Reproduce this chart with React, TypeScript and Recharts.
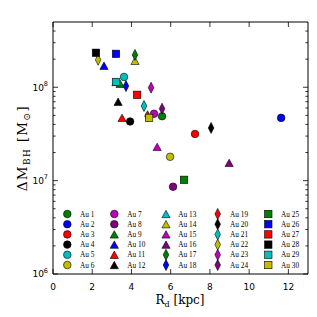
import React from 'react';
import { ScatterChart, Scatter, XAxis, YAxis, ReferenceArea, Legend } from 'recharts';

// ---- data ----
const haloNames = [
  'Au 1', 'Au 2', 'Au 3', 'Au 4', 'Au 5', 'Au 6', 'Au 7', 'Au 8', 'Au 9', 'Au 10',
  'Au 11', 'Au 12', 'Au 13', 'Au 14', 'Au 15', 'Au 16', 'Au 17', 'Au 18', 'Au 19', 'Au 20',
  'Au 21', 'Au 22', 'Au 23', 'Au 24', 'Au 25', 'Au 26', 'Au 27', 'Au 28', 'Au 29', 'Au 30',
];
// disc scale length R_d [kpc]
const diskScaleLengths = [
  5.56, 11.63, 7.24, 3.93, 3.62, 5.97, 5.15, 6.12, 3.42, 2.6,
  3.52, 3.32, 3.21, 4.18, 5.31, 8.98, 4.18, 3.72, 4.82, 8.06,
  4.64, 2.3, 5.0, 5.56, 6.68, 3.21, 4.29, 2.19, 3.21, 4.9,
];
// black hole mass growth [M_sun]
const bhMassGrowth = [
  4.9e7, 4.7e7, 3.16e7, 4.3e7, 1.29e8, 1.8e7, 5.2e7, 8.6e6, 1.09e8, 1.7e8,
  4.7e7, 7.0e7, 1.14e8, 1.92e8, 2.3e7, 1.55e7, 2.22e8, 1.03e8, 4.9e7, 3.67e7,
  6.3e7, 1.97e8, 9.9e7, 5.9e7, 1.02e7, 2.28e8, 8.3e7, 2.34e8, 1.14e8, 4.7e7,
];
const xTicks = [0, 2, 4, 6, 8, 10, 12];
const yTicks = [
  1e6, 2e6, 3e6, 4e6, 5e6, 6e6, 7e6, 8e6, 9e6,
  1e7, 2e7, 3e7, 4e7, 5e7, 6e7, 7e7, 8e7, 9e7,
  1e8, 2e8, 3e8, 4e8,
];
const xDomain = [0, 13];
const yDomain = [1e6, 5e8];

// ---- styles ----
const COLOR_CYCLE = ['#008000', '#0000ff', '#ff0000', '#000000', '#00bfbf', '#bfbf00', '#bf00bf', '#800080'];
const MARKER_CYCLE = ['circle', 'triangle', 'diamond', 'square'];
const colorOf = (i: number) => COLOR_CYCLE[i % 8];
const markerOf = (i: number) => MARKER_CYCLE[Math.floor(i / 8)];

const W = 317;
const H = 317;
const PLOT_LEFT = 53;
const PLOT_RIGHT = 308;
const PLOT_TOP = 22;
const PLOT_BOTTOM = 274;
const TICK_FONT = "'DejaVu Sans', sans-serif";
const SERIF = "'DejaVu Serif', serif";
const LEGEND_SERIF = "'Liberation Serif', serif";

function Marker({ cx, cy, kind, color }: { cx: number; cy: number; kind: string; color: string }) {
  const stroke = '#000';
  const sw = 0.6;
  if (cx == null || cy == null || isNaN(cx) || isNaN(cy)) return null;
  if (kind === 'circle') {
    return <circle cx={cx} cy={cy} r={3.8} fill={color} stroke={stroke} strokeWidth={sw} />;
  }
  if (kind === 'triangle') {
    const w = 8.2, h = 7.4;
    return (
      <polygon
        points={`${cx},${cy - h / 2} ${cx - w / 2},${cy + h / 2} ${cx + w / 2},${cy + h / 2}`}
        fill={color} stroke={stroke} strokeWidth={sw}
      />
    );
  }
  if (kind === 'diamond') {
    const w = 5.6, h = 11;
    return (
      <polygon
        points={`${cx},${cy - h / 2} ${cx + w / 2},${cy} ${cx},${cy + h / 2} ${cx - w / 2},${cy}`}
        fill={color} stroke={stroke} strokeWidth={sw}
      />
    );
  }
  const s = 7.4;
  return <rect x={cx - s / 2} y={cy - s / 2} width={s} height={s} fill={color} stroke={stroke} strokeWidth={sw} />;
}

function XTick(props: any) {
  const { x, payload } = props;
  return (
    <g>
      <line x1={x} x2={x} y1={PLOT_BOTTOM} y2={PLOT_BOTTOM - 5} stroke="#000" strokeWidth={0.8} />
      <line x1={x} x2={x} y1={PLOT_TOP} y2={PLOT_TOP + 5} stroke="#000" strokeWidth={0.8} />
      <text x={x} y={PLOT_BOTTOM + 15.5} textAnchor="middle" fontSize={9} fontFamily={TICK_FONT} fill="#000">
        {payload.value}
      </text>
    </g>
  );
}

function YTick(props: any) {
  const { y, payload } = props;
  const e = Math.log10(payload.value);
  const major = Math.abs(e - Math.round(e)) < 1e-6;
  const len = major ? 5 : 2.6;
  return (
    <g>
      <line x1={PLOT_LEFT} x2={PLOT_LEFT + len} y1={y} y2={y} stroke="#000" strokeWidth={0.8} />
      <line x1={PLOT_RIGHT} x2={PLOT_RIGHT - len} y1={y} y2={y} stroke="#000" strokeWidth={0.8} />
      {major && (
        <text x={48} y={y + 3.3} textAnchor="end" fontSize={9} fontFamily={TICK_FONT} fill="#000">
          <tspan>10</tspan>
          <tspan dy={-4.5} fontSize={6.5}>{Math.round(e)}</tspan>
        </text>
      )}
    </g>
  );
}

function XTitle() {
  return (
    <text x={180} y={304} textAnchor="middle" fontFamily={SERIF} fontSize={12} fill="#000">
      R<tspan dy={2.5} fontSize={8}>d</tspan>
      <tspan dy={-2.5}> [kpc]</tspan>
    </text>
  );
}

function YTitle() {
  return (
    <text
      x={0} y={0}
      transform={`translate(27,148) rotate(-90)`}
      textAnchor="middle" fontFamily={SERIF} fontSize={13.5} letterSpacing={1.3} fill="#000"
    >
      ΔM<tspan dy={3} fontSize={9}>BH</tspan>
      <tspan dy={-3}>{'\u00a0[M'}</tspan>
      <tspan dy={3} fontSize={9.5}>⊙</tspan>
      <tspan dy={-3}>]</tspan>
    </text>
  );
}

const LEG_MARKER_X = [14.3, 61.3, 113, 164.7, 215.3];
const LEG_TEXT_X = [27, 74.3, 125.3, 177, 228];
const LEG_ROW0 = 9;
const LEG_ROW_STEP = 10.2;

function LegendGrid() {
  return (
    <svg width={255} height={70} style={{ display: 'block', overflow: 'visible' }}>
      {haloNames.map((name, i) => {
        const col = Math.floor(i / 6);
        const row = i % 6;
        const cy = LEG_ROW0 + row * LEG_ROW_STEP;
        return (
          <g key={name}>
            <Marker cx={LEG_MARKER_X[col]} cy={cy} kind={markerOf(i)} color={colorOf(i)} />
            <text x={LEG_TEXT_X[col]} y={cy + 2.6} fontSize={7.3} fontFamily={LEGEND_SERIF} fill="#000">
              {name}
            </text>
          </g>
        );
      })}
    </svg>
  );
}

export default function App() {
  const series = haloNames.map((name, i) => ({
    name,
    data: [{ x: diskScaleLengths[i], y: bhMassGrowth[i] }],
    color: colorOf(i),
    kind: markerOf(i),
  }));
  return (
    <div style={{ position: 'absolute', left: 0, top: 0, width: W, height: H, background: '#fff' }}>
      <ScatterChart width={W} height={H} margin={{ top: PLOT_TOP, right: W - PLOT_RIGHT, bottom: 0, left: 0 }}>
        <XAxis
          type="number" dataKey="x" domain={xDomain} ticks={xTicks} interval={0}
          allowDataOverflow height={H - PLOT_BOTTOM} tickLine={false} axisLine={false}
          tickSize={0} tickMargin={0} tick={<XTick />} label={<XTitle />}
        />
        <YAxis
          type="number" dataKey="y" scale="log" domain={yDomain} ticks={yTicks} interval={0}
          allowDataOverflow width={PLOT_LEFT} tickLine={false} axisLine={false}
          tickSize={0} tickMargin={0} tick={<YTick />} label={<YTitle />}
        />
        {series.map((s) => (
          <Scatter
            key={s.name}
            name={s.name}
            data={s.data}
            fill={s.color}
            isAnimationActive={false}
            shape={(p: any) => <Marker cx={p.cx} cy={p.cy} kind={s.kind} color={s.color} />}
          />
        ))}
        <ReferenceArea
          x1={xDomain[0]} x2={xDomain[1]} y1={yDomain[0]} y2={yDomain[1]}
          fill="none" fillOpacity={0} stroke="#000" strokeWidth={1} ifOverflow="visible"
        />
        <Legend
          layout="horizontal" verticalAlign="middle" align="center"
          wrapperStyle={{ left: PLOT_LEFT, top: 205, width: 255, height: 70 }}
          content={() => <LegendGrid />}
        />
      </ScatterChart>
    </div>
  );
}
